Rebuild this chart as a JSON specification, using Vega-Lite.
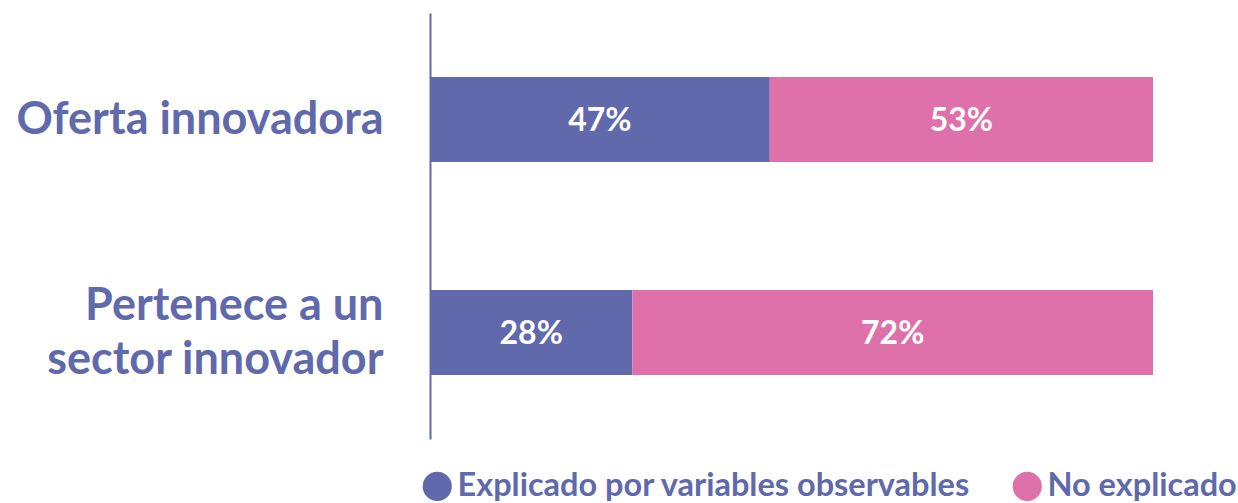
{
  "$schema": "https://vega.github.io/schema/vega-lite/v6.json",
  "width": 723,
  "height": 426,
  "autosize": "none",
  "padding": {"left": 430, "top": 13, "right": 85, "bottom": 64},
  "background": "white",
  "config": {"view": {"stroke": null}},
  "data": {
    "values": [
      {"cat": "Oferta innovadora", "tipo": "Explicado por variables observables", "ord": 1, "value": 47, "label": "47%"},
      {"cat": "Oferta innovadora", "tipo": "No explicado", "ord": 2, "value": 53, "label": "53%"},
      {"cat": "Pertenece a un sector innovador", "tipo": "Explicado por variables observables", "ord": 1, "value": 28, "label": "28%"},
      {"cat": "Pertenece a un sector innovador", "tipo": "No explicado", "ord": 2, "value": 72, "label": "72%"}
    ]
  },
  "transform": [
    {"stack": "value", "groupby": ["cat"], "sort": [{"field": "ord", "order": "ascending"}], "as": ["v0", "v1"]}
  ],
  "encoding": {
    "y": {
      "field": "cat", "type": "nominal", "sort": null,
      "scale": {"paddingInner": 0, "paddingOuter": 0},
      "axis": {
        "title": null, "ticks": false, "domainColor": "#6069AC", "domainWidth": 2,
        "labelFont": "Lato", "labelFontSize": 45, "labelFontWeight": "bold", "labelColor": "#6069AC",
        "labelPadding": 47, "labelLineHeight": 54, "labelLimit": 600,
        "labelOffset": {"condition": {"test": "datum.value == 'Pertenece a un sector innovador'", "value": -27}, "value": 0},
        "labelExpr": "datum.value == 'Pertenece a un sector innovador' ? ['Pertenece a un', 'sector innovador'] : datum.value"
      }
    }
  },
  "layer": [
    {
      "mark": {"type": "bar", "size": 85},
      "encoding": {
        "x": {"field": "v0", "type": "quantitative", "scale": {"domain": [0, 100]}, "axis": null},
        "x2": {"field": "v1"},
        "color": {
          "field": "tipo", "type": "nominal",
          "scale": {"domain": ["Explicado por variables observables", "No explicado"], "range": ["#6069AC", "#DE71A9"]},
          "legend": {
            "title": null, "orient": "none", "direction": "horizontal", "legendX": -9, "legendY": 457,
            "symbolType": "circle", "symbolSize": 850, "symbolOpacity": 1, "symbolStrokeWidth": 0,
            "labelFont": "Lato", "labelFontSize": 32.5, "labelFontWeight": "bold", "labelColor": "#6069AC",
            "labelOffset": 4, "columnPadding": 40, "labelLimit": 700
          }
        }
      }
    },
    {
      "transform": [
        {"fold": ["v0", "v1"], "as": ["edge", "pos"]},
        {"aggregate": [{"op": "mean", "field": "pos", "as": "mid"}], "groupby": ["cat", "tipo", "label"]}
      ],
      "mark": {"type": "text", "font": "Lato", "fontSize": 32, "fontWeight": "bold", "color": "white", "align": "center", "baseline": "middle", "dy": 1},
      "encoding": {
        "x": {"field": "mid", "type": "quantitative", "scale": {"domain": [0, 100]}},
        "text": {"field": "label", "type": "nominal"}
      }
    }
  ]
}
